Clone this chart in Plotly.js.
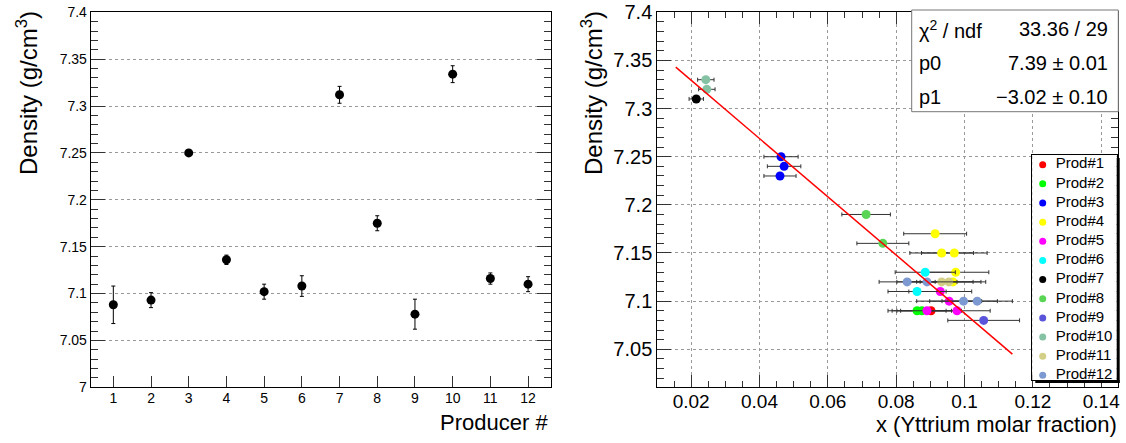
<!DOCTYPE html>
<html><head><meta charset="utf-8">
<script src="https://cdn.plot.ly/plotly-3.0.1.min.js"></script>
<style>html,body{margin:0;padding:0;background:#fff}#chart{width:1126px;height:443px}</style>
</head><body><div id="chart"></div>
<script>
// ---- Left panel: mean density per producer ----
const producers = [1, 2, 3, 4, 5, 6, 7, 8, 9, 10, 11, 12];
const density = [7.088, 7.093, 7.250, 7.136, 7.102, 7.108, 7.312, 7.175, 7.078, 7.334, 7.116, 7.110];
const densityErr = [0.020, 0.008, 0.002, 0.005, 0.008, 0.011, 0.009, 0.008, 0.016, 0.009, 0.006, 0.008];

// ---- Right panel: individual samples ----
const prodNames = ['Prod#1','Prod#2','Prod#3','Prod#4','Prod#5','Prod#6','Prod#7','Prod#8','Prod#9','Prod#10','Prod#11','Prod#12'];
const prodColors = ['#ff0000','#00ff00','#0000ff','#ffff00','#ff00ff','#00ffff','#000000','#59d454','#5954d9','#85c2a3','#d4cf87','#7d99d1'];

const sampleProd = [10, 10, 7, 3, 3, 3, 8, 8, 4, 4, 4, 4, 4, 6, 6, 12, 12, 12, 12, 11, 11, 5, 5, 5, 5, 2, 2, 1, 9];
const sampleX = [0.0243, 0.0246, 0.0215, 0.0463, 0.0472, 0.0460, 0.0712, 0.0761, 0.0914, 0.0933, 0.0970, 0.0974, 0.0966,
                 0.0885, 0.0861, 0.0832, 0.0890, 0.0997, 0.1037, 0.0933, 0.0954, 0.0929, 0.0955, 0.0890, 0.0978,
                 0.0861, 0.0875, 0.0902, 0.1056];
const sampleXErr = [0.0024, 0.0024, 0.0021, 0.0050, 0.0049, 0.0047, 0.0071, 0.0076, 0.0092, 0.0093, 0.0096, 0.0097, 0.0096,
                    0.0088, 0.0085, 0.0082, 0.0088, 0.0099, 0.0103, 0.0092, 0.0094, 0.0092, 0.0095, 0.0088, 0.0097,
                    0.0085, 0.0087, 0.0089, 0.0105];
const sampleDensity = [7.33, 7.32, 7.31, 7.25, 7.24, 7.23, 7.19, 7.16, 7.17, 7.15, 7.15, 7.13, 7.12,
                       7.13, 7.11, 7.12, 7.12, 7.10, 7.10, 7.12, 7.12, 7.11, 7.10, 7.09, 7.09,
                       7.09, 7.09, 7.09, 7.08];

// fitted line endpoints (as drawn)
const fitX = [0.0155, 0.1140];
const fitY = [7.343, 7.045];

// fit statistics box
const statLabels = ['\u03C7<sup>2</sup> / ndf', 'p0', 'p1'];
const statValues = ['33.36 / 29', '7.39 \u00B1 0.01', '\u22123.02 \u00B1 0.10'];

// ---- geometry helpers (pixels -> paper) ----
const W = 1126, H = 443;
const px = v => v / W;
const py = v => 1 - v / H;
const FONT = 'Liberation Sans, Arial, sans-serif';

const traces = [];
traces.push({
  type: 'scatter', mode: 'markers', xaxis: 'x', yaxis: 'y',
  x: producers, y: density,
  error_y: {type: 'data', array: densityErr, visible: true, color: '#000', thickness: 1, width: 2},
  marker: {color: '#000', size: 9},
  showlegend: false
});

prodNames.forEach((name, i) => {
  const idx = [];
  sampleProd.forEach((p, k) => { if (p === i + 1) idx.push(k); });
  traces.push({
    type: 'scatter', mode: 'markers', xaxis: 'x2', yaxis: 'y2', name: name,
    x: idx.map(k => sampleX[k]), y: idx.map(k => sampleDensity[k]),
    error_x: {type: 'data', array: idx.map(k => sampleXErr[k]), visible: true, color: '#333', thickness: 1, width: 2},
    marker: {color: prodColors[i], size: 9},
    showlegend: false
  });
});

traces.push({
  type: 'scatter', mode: 'lines', xaxis: 'x2', yaxis: 'y2',
  x: fitX, y: fitY, line: {color: '#ff0000', width: 1.5},
  showlegend: false
});

// legend entries drawn in their own small subplot (x3/y3): markers then labels
traces.push({
  type: 'scatter', mode: 'markers', xaxis: 'x3', yaxis: 'y3',
  x: prodNames.map(() => 0), y: prodNames.map((_, i) => i),
  marker: {color: prodColors, size: 7},
  showlegend: false
});
traces.push({
  type: 'scatter', mode: 'text', xaxis: 'x3', yaxis: 'y3',
  x: prodNames.map(() => 13), y: prodNames.map((_, i) => i),
  text: prodNames, textposition: 'middle right', cliponaxis: false,
  textfont: {family: FONT, size: 15, color: '#000'},
  showlegend: false
});

// legend box geometry (pixels)
const LB = {l: 1032.3, r: 1116.7, t: 155, b: 380};
const topPx = 12.3, botPx = 387.3;
const commonAxis = {
  showline: true, linecolor: '#000', linewidth: 1, zeroline: false,
  ticks: 'inside', tickcolor: '#333', tickwidth: 1
};

const annotations = [
  {text: 'Density (g/cm<sup>3</sup>)', xref: 'paper', yref: 'paper', x: px(27), y: py(9), xanchor: 'center', yanchor: 'top',
   textangle: -90, showarrow: false, font: {family: FONT, size: 24, color: '#000'}},
  {text: 'Producer #', xref: 'paper', yref: 'paper', x: px(550), y: py(422), xanchor: 'right', yanchor: 'middle',
   showarrow: false, font: {family: FONT, size: 22, color: '#000'}},
  {text: 'Density (g/cm<sup>3</sup>)', xref: 'paper', yref: 'paper', x: px(592), y: py(9), xanchor: 'center', yanchor: 'top',
   textangle: -90, showarrow: false, font: {family: FONT, size: 24, color: '#000'}},
  {text: 'x (Yttrium molar fraction)', xref: 'paper', yref: 'paper', x: px(1119), y: py(424), xanchor: 'right', yanchor: 'middle',
   showarrow: false, font: {family: FONT, size: 22, color: '#000'}}
];
const rowY = [29, 63, 97];
statLabels.forEach((t, i) => annotations.push({text: t, xref: 'paper', yref: 'paper', x: px(917), y: py(rowY[i]),
  xanchor: 'left', yanchor: 'middle', showarrow: false, font: {family: FONT, size: 20, color: '#000'}}));
statValues.forEach((t, i) => annotations.push({text: t, xref: 'paper', yref: 'paper', x: px(1110), y: py(rowY[i]),
  xanchor: 'right', yanchor: 'middle', showarrow: false, font: {family: FONT, size: 20, color: '#000'}}));

const rowPitch = 19.15, firstRow = 9.7;
const layout = {
  width: W, height: H, margin: {l: 0, r: 0, t: 0, b: 0},
  paper_bgcolor: '#fff', plot_bgcolor: '#fff',
  font: {family: FONT, color: '#000'},
  showlegend: false,
  xaxis: Object.assign({}, commonAxis, {
    domain: [px(90.7), px(550.7)], range: [0.4, 12.6], anchor: 'y',
    tickvals: producers, ticklen: 11, mirror: true, showgrid: false, ticklabelstandoff: -2,
    tickfont: {family: FONT, size: 14, color: '#000'}
  }),
  yaxis: Object.assign({}, commonAxis, {
    domain: [py(botPx), py(topPx)], range: [7.0, 7.4], anchor: 'x',
    tick0: 7, dtick: 0.05, ticklen: 14, mirror: 'ticks',
    showgrid: true, gridcolor: '#999', griddash: 'dot', gridwidth: 1,
    minor: {ticks: 'inside', ticklen: 7, dtick: 0.01, tick0: 7, tickcolor: '#333', showgrid: false},
    tickfont: {family: FONT, size: 14, color: '#000'}
  }),
  xaxis2: Object.assign({}, commonAxis, {
    domain: [px(657.3), px(1118)], range: [0.0101, 0.1449], anchor: 'y2',
    tick0: 0, dtick: 0.02, ticklen: 12, mirror: 'ticks', ticklabelstandoff: -3,
    showgrid: true, gridcolor: '#999', griddash: 'dot', gridwidth: 1,
    minor: {ticks: 'inside', ticklen: 6, dtick: 0.005, tick0: 0, tickcolor: '#333', showgrid: false},
    tickfont: {family: FONT, size: 19, color: '#000'}
  }),
  yaxis2: Object.assign({}, commonAxis, {
    domain: [py(botPx), py(topPx)], range: [7.0105, 7.4], anchor: 'x2',
    tick0: 7, dtick: 0.05, ticklen: 14, mirror: 'ticks',
    showgrid: true, gridcolor: '#999', griddash: 'dot', gridwidth: 1,
    minor: {ticks: 'inside', ticklen: 7, dtick: 0.01, tick0: 7, tickcolor: '#333', showgrid: false},
    tickfont: {family: FONT, size: 20, color: '#000'}
  }),
  xaxis3: {domain: [px(LB.l), px(LB.r)], range: [-10.4, LB.r - LB.l - 10.4], anchor: 'y3',
           showline: true, mirror: true, linecolor: '#000', linewidth: 1, showgrid: false, zeroline: false,
           showticklabels: false, ticks: '', fixedrange: true},
  yaxis3: {domain: [py(LB.b), py(LB.t)],
           range: [(LB.b - LB.t - firstRow) / rowPitch, -firstRow / rowPitch], anchor: 'x3',
           showline: true, mirror: true, linecolor: '#000', linewidth: 1, showgrid: false, zeroline: false,
           showticklabels: false, ticks: '', fixedrange: true},
  shapes: [
    // fit statistics box
    {type: 'rect', xref: 'paper', yref: 'paper', layer: 'above', x0: px(911.7), x1: px(1118.3), y0: py(111.7), y1: py(10),
     fillcolor: '#fff', line: {color: '#777', width: 1}},
    // legend shadow strips
    {type: 'rect', xref: 'paper', yref: 'paper', layer: 'above', x0: px(LB.r), x1: px(LB.r + 3), y0: py(LB.b + 3), y1: py(LB.t + 3),
     fillcolor: '#000', line: {width: 0}},
    {type: 'rect', xref: 'paper', yref: 'paper', layer: 'above', x0: px(LB.l + 3), x1: px(LB.r + 3), y0: py(LB.b + 3), y1: py(LB.b),
     fillcolor: '#000', line: {width: 0}}
  ],
  annotations: annotations
};

Plotly.newPlot('chart', traces, layout, {displayModeBar: false, staticPlot: true});
</script>
</body></html>
